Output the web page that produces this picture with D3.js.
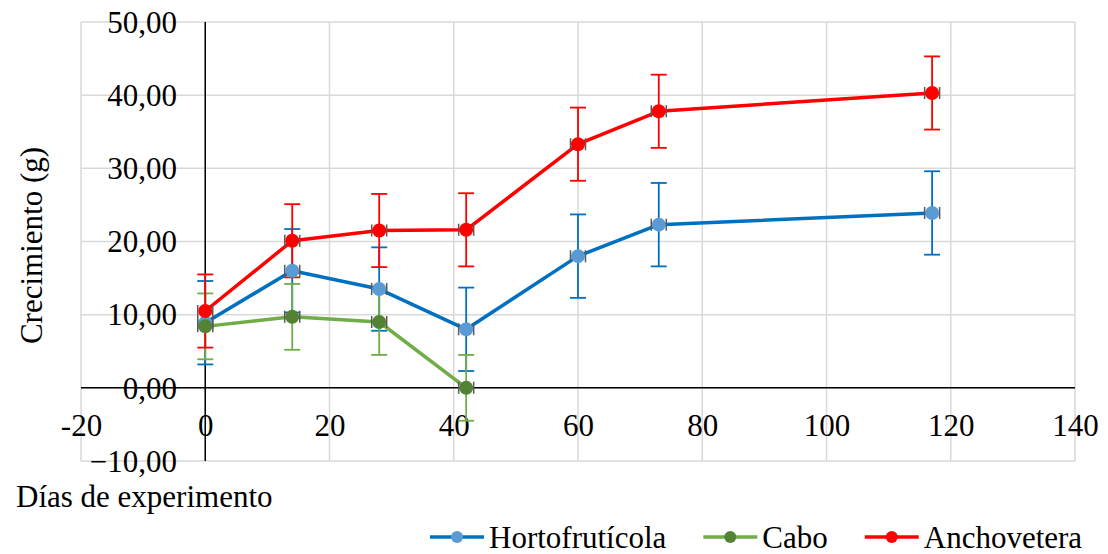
<!DOCTYPE html>
<html>
<head>
<meta charset="utf-8">
<script src="https://cdn.jsdelivr.net/npm/d3@7/dist/d3.min.js"></script>
<style>
  html, body { margin: 0; padding: 0; background: #fff; }
  svg { display: block; }
  svg text { font-family: "Liberation Serif", Tinos, "Times New Roman", Times, "Nimbus Roman", "DejaVu Serif", serif !important; fill: #000; }
</style>
</head>
<body>
<svg id="chart" width="1108" height="554"></svg>
<script>
// Growth (g) per day of experiment, three feed treatments
const days = [0, 14, 28, 42, 60, 73, 117];
const cabDays = [0, 14, 28, 42];

const hortoValues = [8.9, 16.0, 13.5, 8.0, 18.0, 22.3, 23.9];
const hortoErr    = [5.7, 5.7, 5.7, 5.7, 5.7, 5.7, 5.7];

const caboValues  = [8.4, 9.7, 9.0, 0.0];
const caboErr     = [4.5, 4.5, 4.5, 4.5];

const anchoValues = [10.5, 20.1, 21.5, 21.6, 33.3, 37.8, 40.3];
const anchoErr    = [5.0, 5.0, 5.0, 5.0, 5.0, 5.0, 5.0];

const seriesNames = ["Hortofrutícola", "Cabo", "Anchovetera"];
const xTicks = [-20, 0, 20, 40, 60, 80, 100, 120, 140];
const yTicks = [-10, 0, 10, 20, 30, 40, 50];

const series = [
  { name: seriesNames[0], x: days,    y: hortoValues, e: hortoErr, line: "#0070C0", marker: "#5B9BD5" },
  { name: seriesNames[1], x: cabDays, y: caboValues,  e: caboErr,  line: "#70AD47", marker: "#548235" },
  { name: seriesNames[2], x: days,    y: anchoValues, e: anchoErr, line: "#FF0000", marker: "#FF0000" }
];

const SERIF = '"Liberation Serif", Tinos, "Times New Roman", Times, "Nimbus Roman", "DejaVu Serif", serif';
const svg = d3.select("#chart").style("font-family", SERIF);
const x = d3.scaleLinear().domain([-20, 140]).range([81, 1075]);
const y = d3.scaleLinear().domain([-10, 50]).range([461, 22]);
const fmtY = v => d3.format(".2f")(v).replace(".", ",");
const FS = 31;

// gridlines (outer ones form the plot border)
const grid = svg.append("g").attr("stroke", "#D9D9D9").attr("stroke-width", 1.5);
grid.selectAll("line.v").data(xTicks).join("line")
  .attr("x1", d => x(d)).attr("x2", d => x(d))
  .attr("y1", y(50)).attr("y2", y(-10));
grid.selectAll("line.h").data(yTicks).join("line")
  .attr("x1", x(-20)).attr("x2", x(140))
  .attr("y1", d => y(d)).attr("y2", d => y(d));

// y tick labels
const yAxis = d3.axisLeft(y).tickValues(yTicks).tickFormat(fmtY).tickSize(0).tickPadding(0);
const gy = svg.append("g").attr("transform", "translate(177,0)").call(yAxis)
  .attr("font-family", SERIF).attr("font-size", FS);
gy.select(".domain").remove();
gy.selectAll("text").attr("fill", "#000").attr("dy", "0.33em");

// x tick labels
const xAxis = d3.axisBottom(x).tickValues(xTicks).tickFormat(d => String(d)).tickSize(0).tickPadding(0);
const gx = svg.append("g").call(xAxis).attr("font-family", SERIF).attr("font-size", FS);
gx.select(".domain").remove();
gx.selectAll("text").attr("fill", "#000").attr("y", 436).attr("dy", null);

// axis lines through the origin
svg.append("line").attr("x1", x(-20)).attr("x2", x(140)).attr("y1", y(0)).attr("y2", y(0))
  .attr("stroke", "#000").attr("stroke-width", 1.5);
svg.append("line").attr("x1", x(0)).attr("x2", x(0)).attr("y1", y(50)).attr("y2", y(-10))
  .attr("stroke", "#000").attr("stroke-width", 1.5);

// axis titles
svg.append("text").attr("transform", `translate(42,${(y(50) + y(-10)) / 2 + 4}) rotate(-90)`)
  .attr("text-anchor", "middle").attr("font-size", FS).text("Crecimiento (g)");
svg.append("text").attr("x", 16).attr("y", 507).attr("font-size", FS).text("Días de experimento");

// error bars
const cap = 8;
series.forEach(s => {
  const g = svg.append("g").attr("stroke", s.line).attr("stroke-width", 1.8);
  s.x.forEach((d, i) => {
    const cx = x(d), top = y(s.y[i] + s.e[i]), bot = y(s.y[i] - s.e[i]);
    g.append("line").attr("x1", cx).attr("x2", cx).attr("y1", top).attr("y2", bot);
    g.append("line").attr("x1", cx - cap).attr("x2", cx + cap).attr("y1", top).attr("y2", top);
    g.append("line").attr("x1", cx - cap).attr("x2", cx + cap).attr("y1", bot).attr("y2", bot);
  });
});

// lines and markers
const lineGen = d3.line().x(d => x(d[0])).y(d => y(d[1]));
series.forEach(s => {
  const pts = s.x.map((d, i) => [d, s.y[i]]);
  svg.append("path").datum(pts).attr("d", lineGen)
    .attr("fill", "none").attr("stroke", s.line).attr("stroke-width", 3.5).attr("stroke-linejoin", "round");
});
series.forEach(s => {
  const pts = s.x.map((d, i) => [d, s.y[i]]);
  const g = svg.append("g");
  // small horizontal-error caps beside each marker
  g.selectAll("path.xe").data(pts).join("path")
    .attr("d", d => {
      const cx = x(d[0]), cy = y(d[1]);
      return `M${cx - 7.5},${cy - 6}V${cy + 6}M${cx + 7.5},${cy - 6}V${cy + 6}`;
    })
    .attr("stroke", "#595959").attr("stroke-width", 1.5).attr("fill", "none");
  g.selectAll("circle").data(pts).join("circle")
    .attr("cx", d => x(d[0])).attr("cy", d => y(d[1])).attr("r", 7)
    .attr("fill", s.marker);
});

// legend
const leg = svg.append("g");
let lx = 430;
const ly = 537;
series.forEach(s => {
  const g = leg.append("g");
  g.append("line").attr("x1", lx).attr("x2", lx + 54).attr("y1", ly).attr("y2", ly)
    .attr("stroke", s.line).attr("stroke-width", 3.5);
  g.append("circle").attr("cx", lx + 27).attr("cy", ly).attr("r", 6).attr("fill", s.marker);
  const t = g.append("text").attr("x", lx + 59).attr("y", 548).attr("font-size", FS).text(s.name);
  lx += 59 + t.node().getComputedTextLength() + 37;
});
</script>
</body>
</html>
